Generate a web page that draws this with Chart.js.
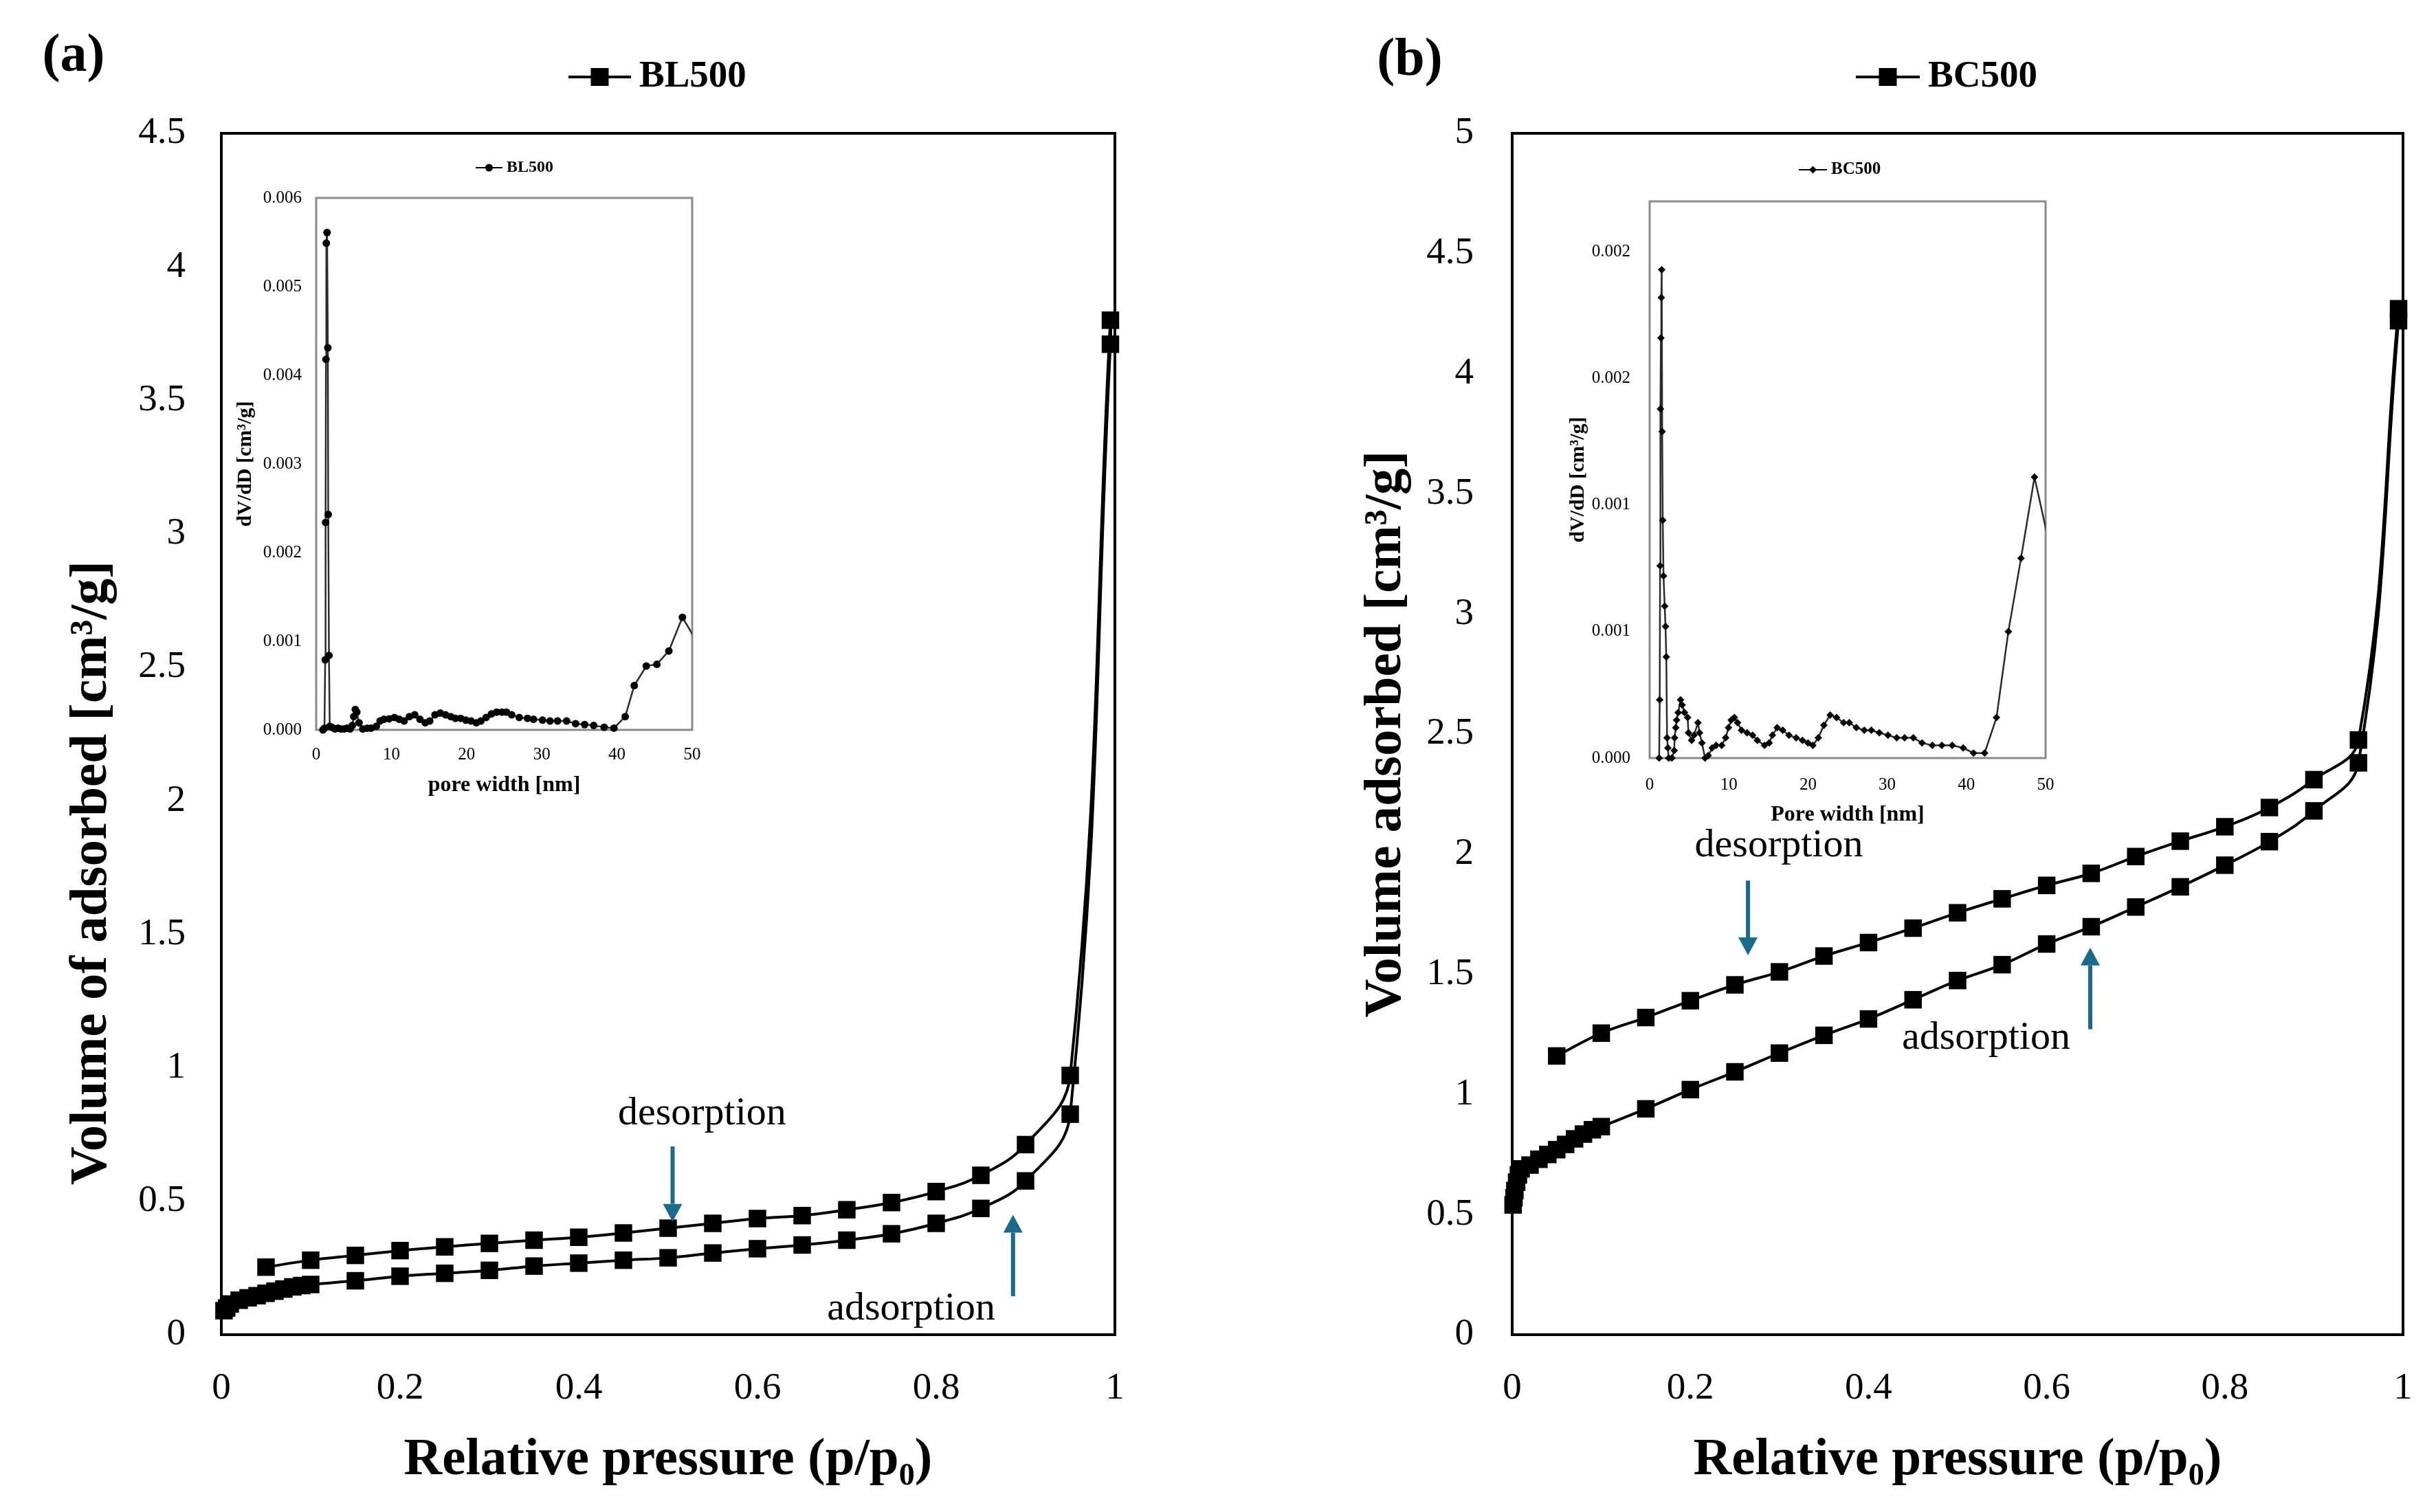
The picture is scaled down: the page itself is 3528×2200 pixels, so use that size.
<!DOCTYPE html>
<html>
<head>
<meta charset="utf-8">
<script src="https://cdn.jsdelivr.net/npm/chart.js@4.4.1/dist/chart.umd.min.js"></script>
<style>
  html, body { margin: 0; padding: 0; background: #fff; }
  #stage { position: relative; width: 3528px; height: 2200px; overflow: hidden; background: #fff; }
  #stage canvas { position: absolute; }
</style>
</head>
<body>
<div id="stage">
  <canvas id="mainBL" width="1764" height="2200" style="left:0;top:0"></canvas>
  <!-- wider than the window on purpose: room for the right tick-label padding, clipped by #stage -->
  <canvas id="mainBC" width="1864" height="2200" style="left:1764px;top:0"></canvas>
  <canvas id="insetBL" width="760" height="1000" style="left:300px;top:180px"></canvas>
  <canvas id="insetBC" width="800" height="1030" style="left:2230px;top:200px"></canvas>
</div>
<script>
/*****************************************
 * 1. DATA
 *****************************************/
// (a) BL500 isotherm - adsorption branch, then desorption branch
const blAdsPressure = [0.003, 0.006, 0.01, 0.02, 0.03, 0.04, 0.05, 0.06, 0.07, 0.08, 0.09, 0.1,
  0.15, 0.2, 0.25, 0.3, 0.35, 0.4, 0.45, 0.5, 0.55, 0.6, 0.65, 0.7, 0.75, 0.8, 0.85, 0.9, 0.95, 0.995];
const blAdsVolume = [0.09, 0.10, 0.115, 0.129, 0.138, 0.146, 0.155, 0.163, 0.171, 0.179, 0.184, 0.188,
  0.202, 0.219, 0.230, 0.241, 0.257, 0.268, 0.279, 0.288, 0.306, 0.322, 0.336, 0.354, 0.378, 0.417, 0.473, 0.576, 0.826, 3.71];
const blDesPressure = [0.995, 0.95, 0.9, 0.85, 0.8, 0.75, 0.7, 0.65, 0.6, 0.55, 0.5,
  0.45, 0.4, 0.35, 0.3, 0.25, 0.2, 0.15, 0.1, 0.05];
const blDesVolume = [3.80, 0.971, 0.712, 0.597, 0.536, 0.495, 0.468, 0.446, 0.435, 0.417, 0.399,
  0.381, 0.365, 0.354, 0.342, 0.329, 0.315, 0.297, 0.279, 0.253];

// (b) BC500 isotherm
const bcAdsPressure = [0.001, 0.002, 0.003, 0.005, 0.007, 0.01, 0.02, 0.03, 0.04, 0.05, 0.06, 0.07, 0.08, 0.09, 0.1,
  0.15, 0.2, 0.25, 0.3, 0.35, 0.4, 0.45, 0.5, 0.55, 0.6, 0.65, 0.7, 0.75, 0.8, 0.85, 0.9, 0.95, 0.995];
const bcAdsVolume = [0.54, 0.57, 0.60, 0.635, 0.665, 0.69, 0.706, 0.73, 0.75, 0.77, 0.792, 0.815, 0.835, 0.853, 0.866,
  0.94, 1.02, 1.094, 1.172, 1.246, 1.314, 1.394, 1.474, 1.54, 1.626, 1.698, 1.78, 1.864, 1.954, 2.052, 2.18, 2.38, 4.22];
const bcDesPressure = [0.995, 0.95, 0.9, 0.85, 0.8, 0.75, 0.7, 0.65, 0.6, 0.55, 0.5,
  0.45, 0.4, 0.35, 0.3, 0.25, 0.2, 0.15, 0.1, 0.05];
const bcDesVolume = [4.27, 2.475, 2.31, 2.194, 2.114, 2.054, 1.99, 1.92, 1.87, 1.814, 1.756,
  1.692, 1.632, 1.576, 1.51, 1.456, 1.39, 1.32, 1.255, 1.16];

// insets: pore size distribution
const blPoreWidth = [0.9, 1.1, 1.2, 1.25, 1.3, 1.35, 1.45, 1.55, 1.6, 1.7, 1.8, 2.1, 2.5, 2.9, 3.3, 3.7, 4.1, 4.5,
  4.8, 5.0, 5.2, 5.4, 5.7, 6.2, 6.8, 7.3, 8.0, 8.5, 9.0, 9.7, 10.4, 11.05, 11.7, 12.4, 13.1, 13.8, 14.5, 15.1,
  15.8, 16.5, 17.2, 17.9, 18.5, 19.2, 19.9, 20.6, 21.3, 21.9, 22.6, 23.3, 24.0, 24.7, 25.3, 26.0, 27.0, 28.1,
  28.9, 30.1, 31.1, 32.1, 33.3, 34.5, 35.7, 36.9, 38.3, 39.6, 41.1, 42.3, 43.9, 45.3, 46.9, 48.7, 51.0];
const blPoreDvDd = [0, 0.00002, 0.00079, 0.00234, 0.00418, 0.00549, 0.00561, 0.00431, 0.00243, 0.00084, 0.00004,
  0.00003, 0.00001, 0.00002, 0.00001, 0.00001, 0.00002, 0.00001, 0.00005, 0.00015, 0.00023, 0.0002, 0.00008,
  0.00001, 0.00002, 0.00002, 0.00004, 0.0001, 0.00012, 0.000125, 0.00014, 0.00012, 0.0001, 0.00015, 0.00017,
  0.00012, 0.00008, 0.0001, 0.00017, 0.00019, 0.00017, 0.00015, 0.00013, 0.00013, 0.00011, 0.0001, 0.00008,
  0.0001, 0.00014, 0.00018, 0.0002, 0.0002, 0.0002, 0.00017, 0.00014, 0.00013, 0.00012, 0.00011, 0.0001,
  0.0001, 0.0001, 0.00007, 0.00006, 0.00005, 0.00003, 0.00002, 0.00015, 0.0005, 0.00072, 0.00074, 0.00089,
  0.00127, 0.00094];

const bcPoreWidth = [1.2, 1.27, 1.32, 1.36, 1.42, 1.47, 1.52, 1.58, 1.65, 1.75, 1.9, 2.0, 2.1, 2.2, 2.3, 2.4, 2.8,
  3.1, 3.15, 3.3, 3.4, 3.6, 3.9, 4.1, 4.4, 4.8, 4.9, 5.3, 5.6, 6.1, 6.3, 6.6, 7.0, 7.4, 7.9, 8.4, 9.1, 9.6, 9.95,
  10.3, 10.7, 11.1, 11.6, 12.3, 13.0, 13.6, 14.5, 15.1, 15.5, 16.1, 16.8, 17.6, 18.5, 19.3, 20.0, 20.6, 21.3,
  22.0, 22.8, 23.6, 24.5, 25.2, 26.1, 27.1, 28.0, 29.0, 30.1, 31.2, 32.2, 33.3, 34.4, 35.7, 36.9, 38.2, 39.6,
  40.9, 42.3, 43.8, 45.3, 46.9, 48.6, 51.0];
const bcPoreDvDd = [0, 0.00023, 0.00076, 0.00138, 0.00166, 0.00182, 0.00193, 0.00129, 0.00094, 0.00072, 0.0006,
  0.00052, 0.0004, 0.00008, 0.00004, 0, 0, 0.00003, 0.00008, 0.00012, 0.00015, 0.00018, 0.00023, 0.00021,
  0.00018, 0.00016, 0.0001, 0.00007, 0.00009, 0.00014, 0.0001, 0.00006, 0, 0.00001, 0.00004, 0.00005, 0.00005,
  0.00008, 0.00012, 0.00015, 0.00016, 0.00014, 0.00011, 0.0001, 0.00009, 0.00007, 0.00005, 0.00006, 0.00009,
  0.00012, 0.00011, 0.00009, 0.00008, 0.00007, 0.00006, 0.00005, 0.00008, 0.00013, 0.00017, 0.00016, 0.00014,
  0.00014, 0.00012, 0.00011, 0.00011, 0.0001, 0.00009, 0.00008, 0.00008, 0.00008, 0.00006, 0.00005, 0.00005,
  0.00005, 0.00004, 0.00002, 0.00002, 0.00016, 0.0005, 0.00079, 0.00111, 0.00077];

// tick labels
const pressureTicks = ['0', '0.2', '0.4', '0.6', '0.8', '1'];
const blVolumeTicks = ['0', '0.5', '1', '1.5', '2', '2.5', '3', '3.5', '4', '4.5'];
const bcVolumeTicks = ['0', '0.5', '1', '1.5', '2', '2.5', '3', '3.5', '4', '4.5', '5'];
const poreTicks = ['0', '10', '20', '30', '40', '50'];
const blInsetTicks = ['0.000', '0.001', '0.002', '0.003', '0.004', '0.005', '0.006'];
const bcInsetTicks = ['0.000', '0.001', '0.001', '0.002', '0.002'];

/*****************************************
 * 2. SMALL HELPERS / PLUGINS
 *****************************************/
const SERIF = '"Liberation Serif", "Times New Roman", serif';
const ARROW_BLUE = '#1b6a8c';
Chart.defaults.font.family = SERIF;
Chart.defaults.color = '#000';

const toPoints = (xs, ys) => xs.map((x, i) => ({ x: x, y: ys[i] }));

// box around the plot area
const framePlugin = {
  id: 'frame',
  beforeDatasetsDraw(chart, args, opts) {
    const { ctx, chartArea: a } = chart;
    ctx.save();
    ctx.strokeStyle = opts.color;
    ctx.lineWidth = opts.width;
    ctx.strokeRect(a.left, a.top, a.right - a.left, a.bottom - a.top);
    ctx.restore();
  }
};

// panel letters, hand-made legend keys, arrows and their labels
const notesPlugin = {
  id: 'notes',
  afterDraw(chart, args, opts) {
    const { ctx } = chart;
    const sx = chart.scales.x, sy = chart.scales.y;
    (opts.items || []).forEach(it => {
      ctx.save();
      if (it.kind === 'text') {
        let x = it.x, y = it.y;
        if (it.data) { x = sx.getPixelForValue(it.x); y = sy.getPixelForValue(it.y); }
        ctx.translate(x, y);
        if (it.rotate) ctx.rotate(it.rotate);
        ctx.font = it.font;
        ctx.fillStyle = it.color || '#000';
        ctx.textAlign = it.align || 'center';
        ctx.textBaseline = 'middle';
        ctx.fillText(it.text, 0, 0);
      } else if (it.kind === 'arrow') {
        const x = sx.getPixelForValue(it.x);
        const y0 = sy.getPixelForValue(it.from);
        const y1 = sy.getPixelForValue(it.to);
        const dir = y1 > y0 ? 1 : -1;
        const head = 26, half = 14;
        ctx.strokeStyle = ARROW_BLUE;
        ctx.fillStyle = ARROW_BLUE;
        ctx.lineWidth = 6;
        ctx.beginPath();
        ctx.moveTo(x, y0);
        ctx.lineTo(x, y1 - dir * head);
        ctx.stroke();
        ctx.beginPath();
        ctx.moveTo(x, y1);
        ctx.lineTo(x - half, y1 - dir * head);
        ctx.lineTo(x + half, y1 - dir * head);
        ctx.closePath();
        ctx.fill();
      } else if (it.kind === 'key') {
        ctx.strokeStyle = '#000';
        ctx.fillStyle = '#000';
        ctx.lineWidth = it.lineWidth;
        ctx.beginPath();
        ctx.moveTo(it.x0, it.y);
        ctx.lineTo(it.x1, it.y);
        ctx.stroke();
        const cx = (it.x0 + it.x1) / 2, s = it.size;
        ctx.beginPath();
        if (it.marker === 'rect') {
          ctx.rect(cx - s / 2, it.y - s / 2, s, s);
        } else if (it.marker === 'circle') {
          ctx.arc(cx, it.y, s / 2, 0, Math.PI * 2);
        } else {
          ctx.moveTo(cx, it.y - s / 2); ctx.lineTo(cx + s / 2, it.y);
          ctx.lineTo(cx, it.y + s / 2); ctx.lineTo(cx - s / 2, it.y);
          ctx.closePath();
        }
        ctx.fill();
        ctx.font = it.font;
        ctx.textAlign = 'left';
        ctx.textBaseline = 'middle';
        ctx.fillText(it.text, it.textX, it.y);
      }
      ctx.restore();
    });
  }
};

/*****************************************
 * 3. CHART BUILDERS
 *****************************************/
function isothermChart(canvasId, cfg) {
  return new Chart(document.getElementById(canvasId), {
    type: 'scatter',
    data: {
      datasets: [{
        label: cfg.label,
        data: cfg.points,
        showLine: true,
        tension: 0.4,
        borderColor: '#000',
        borderWidth: 4,
        pointStyle: 'rect',
        pointRadius: 18,
        pointHoverRadius: 18,
        pointBackgroundColor: '#000',
        pointBorderWidth: 0,
        clip: 30
      }]
    },
    options: {
      responsive: false,
      animation: false,
      devicePixelRatio: 1,
      layout: { padding: cfg.padding },
      scales: {
        x: {
          type: 'linear', min: 0, max: 1,
          grid: { display: false, drawTicks: false },
          border: { display: false },
          ticks: {
            stepSize: 0.2, autoSkip: false, maxRotation: 0, padding: 46,
            font: { family: SERIF, size: 55 }, color: '#000',
            callback: (v, i) => pressureTicks[i]
          },
          title: {
            display: true, text: 'Relative pressure (p/p₀)', color: '#000',
            font: { family: SERIF, size: 77, weight: 'bold' },
            padding: { top: 0, bottom: 29 }
          },
          afterFit: s => { s.height = 258; }
        },
        y: {
          type: 'linear', min: 0, max: cfg.yMax,
          grid: { display: false, drawTicks: false },
          border: { display: false },
          ticks: {
            stepSize: 0.5, autoSkip: false, padding: cfg.yTickPad,
            font: { family: SERIF, size: 55 }, color: '#000',
            callback: (v, i) => cfg.yTicks[i]
          },
          title: cfg.yTitle,
          afterFit: s => { s.width = cfg.yWidth; }
        }
      },
      plugins: {
        legend: { display: false },
        tooltip: { enabled: false },
        frame: { color: '#000', width: 4 },
        notes: { items: cfg.notes }
      }
    },
    plugins: [framePlugin, notesPlugin]
  });
}

function insetChart(canvasId, cfg) {
  return new Chart(document.getElementById(canvasId), {
    type: 'scatter',
    data: {
      datasets: [{
        label: cfg.label,
        data: cfg.points,
        showLine: true,
        tension: 0,
        borderColor: '#2b2b2b',
        borderWidth: 2.5,
        pointStyle: cfg.pointStyle,
        pointRadius: cfg.pointRadius,
        pointHoverRadius: cfg.pointRadius,
        pointBackgroundColor: '#000',
        pointBorderColor: '#000',
        pointBorderWidth: 0,
        clip: { left: 10, top: 10, right: 0, bottom: 10 }
      }]
    },
    options: {
      responsive: false,
      animation: false,
      devicePixelRatio: 1,
      layout: { padding: cfg.padding },
      scales: {
        x: {
          type: 'linear', min: 0, max: 50,
          grid: { display: false, drawTicks: false },
          border: { display: false },
          ticks: {
            stepSize: 10, autoSkip: false, maxRotation: 0, padding: cfg.xTickPad,
            font: { family: SERIF, size: 25 }, color: '#000',
            callback: (v, i) => poreTicks[i]
          },
          title: {
            display: true, text: cfg.xTitle, color: '#000',
            font: { family: SERIF, size: 32, weight: 'bold' },
            padding: { top: 0, bottom: cfg.xTitlePad }
          },
          afterFit: s => { s.height = cfg.xHeight; }
        },
        y: {
          type: 'linear', min: 0, max: cfg.yMax,
          grid: { display: false, drawTicks: false },
          border: { display: false },
          ticks: {
            stepSize: cfg.yStep, autoSkip: false, includeBounds: false, padding: cfg.yTickPad,
            font: { family: SERIF, size: 25 }, color: '#000',
            callback: (v, i) => cfg.yTicks[i]
          },
          title: {
            display: true, text: 'dV/dD [cm³/g]', color: '#000',
            font: { family: SERIF, size: 30, weight: 'bold' },
            padding: { top: cfg.yTitlePad, bottom: 0 }
          },
          afterFit: s => { s.width = cfg.yWidth; }
        }
      },
      plugins: {
        legend: { display: false },
        tooltip: { enabled: false },
        frame: { color: '#8a8a8a', width: 3 },
        notes: { items: cfg.notes }
      }
    },
    plugins: [framePlugin, notesPlugin]
  });
}

/*****************************************
 * 4. THE FOUR CHARTS
 *****************************************/
// (a) BL500
isothermChart('mainBL', {
  label: 'BL500',
  points: toPoints(blAdsPressure, blAdsVolume).concat(toPoints(blDesPressure, blDesVolume)),
  padding: { left: 0, top: 194, right: 142, bottom: 0 },
  yMax: 4.5, yTicks: blVolumeTicks, yWidth: 322, yTickPad: 52,
  yTitle: { display: false },
  notes: [
    { kind: 'text', text: '(a)', x: 107, y: 83, font: 'bold 78px ' + SERIF },
    { kind: 'key', x0: 827, x1: 918, y: 112, marker: 'rect', size: 26, lineWidth: 4,
      text: 'BL500', textX: 930, font: 'bold 55px ' + SERIF },
    { kind: 'text', text: 'Volume of adsorbed [cm³/g]', x: 134, y: 1270, rotate: -Math.PI / 2,
      font: 'bold 77px ' + SERIF },
    { kind: 'text', data: true, text: 'desorption', x: 0.538, y: 0.828, font: '58px ' + SERIF },
    { kind: 'arrow', x: 0.505, from: 0.705, to: 0.423 },
    { kind: 'text', data: true, text: 'adsorption', x: 0.772, y: 0.095, font: '58px ' + SERIF },
    { kind: 'arrow', x: 0.886, from: 0.144, to: 0.449 }
  ]
});

// (b) BC500
isothermChart('mainBC', {
  label: 'BC500',
  points: toPoints(bcAdsPressure, bcAdsVolume).concat(toPoints(bcDesPressure, bcDesVolume)),
  padding: { left: 0, top: 194, right: 132, bottom: 0 },
  yMax: 5, yTicks: bcVolumeTicks, yWidth: 436, yTickPad: 56,
  yTitle: {
    display: true, text: 'Volume adsorbed [cm³/g]', color: '#000',
    font: { family: SERIF, size: 77, weight: 'bold' },
    padding: { top: 207, bottom: 0 }
  },
  notes: [
    { kind: 'text', text: '(b)', x: 287, y: 89, font: 'bold 78px ' + SERIF },
    { kind: 'key', x0: 936, x1: 1029, y: 112, marker: 'rect', size: 26, lineWidth: 4,
      text: 'BC500', textX: 1041, font: 'bold 55px ' + SERIF },
    { kind: 'text', data: true, text: 'desorption', x: 0.2994, y: 2.035, font: '58px ' + SERIF },
    { kind: 'arrow', x: 0.2647, from: 1.890, to: 1.579 },
    { kind: 'text', data: true, text: 'adsorption', x: 0.532, y: 1.234, font: '58px ' + SERIF },
    { kind: 'arrow', x: 0.6489, from: 1.271, to: 1.611 }
  ]
});

// inset of (a)
insetChart('insetBL', {
  label: 'BL500',
  points: toPoints(blPoreWidth, blPoreDvDd),
  pointStyle: 'circle', pointRadius: 5.5,
  padding: { left: 0, top: 108, right: 53, bottom: 0 },
  xHeight: 118, xTickPad: 21, xTitle: 'pore width [nm]', xTitlePad: 18,
  yMax: 0.006, yStep: 0.001, yTicks: blInsetTicks, yWidth: 160, yTickPad: 21, yTitlePad: 39,
  notes: [
    { kind: 'key', x0: 392, x1: 431, y: 64, marker: 'circle', size: 11, lineWidth: 2,
      text: 'BL500', textX: 437, font: 'bold 24px ' + SERIF }
  ]
});

// inset of (b)
insetChart('insetBC', {
  label: 'BC500',
  points: toPoints(bcPoreWidth, bcPoreDvDd),
  pointStyle: 'rectRot', pointRadius: 5.5,
  padding: { left: 0, top: 93, right: 54, bottom: 0 },
  xHeight: 127, xTickPad: 24, xTitle: 'Pore width [nm]', xTitlePad: 25,
  yMax: 0.0022, yStep: 0.0005, yTicks: bcInsetTicks, yWidth: 170, yTickPad: 28, yTitlePad: 48,
  notes: [
    { kind: 'key', x0: 387, x1: 428, y: 47, marker: 'diamond', size: 11, lineWidth: 2,
      text: 'BC500', textX: 434, font: 'bold 25px ' + SERIF }
  ]
});
</script>
</body>
</html>
